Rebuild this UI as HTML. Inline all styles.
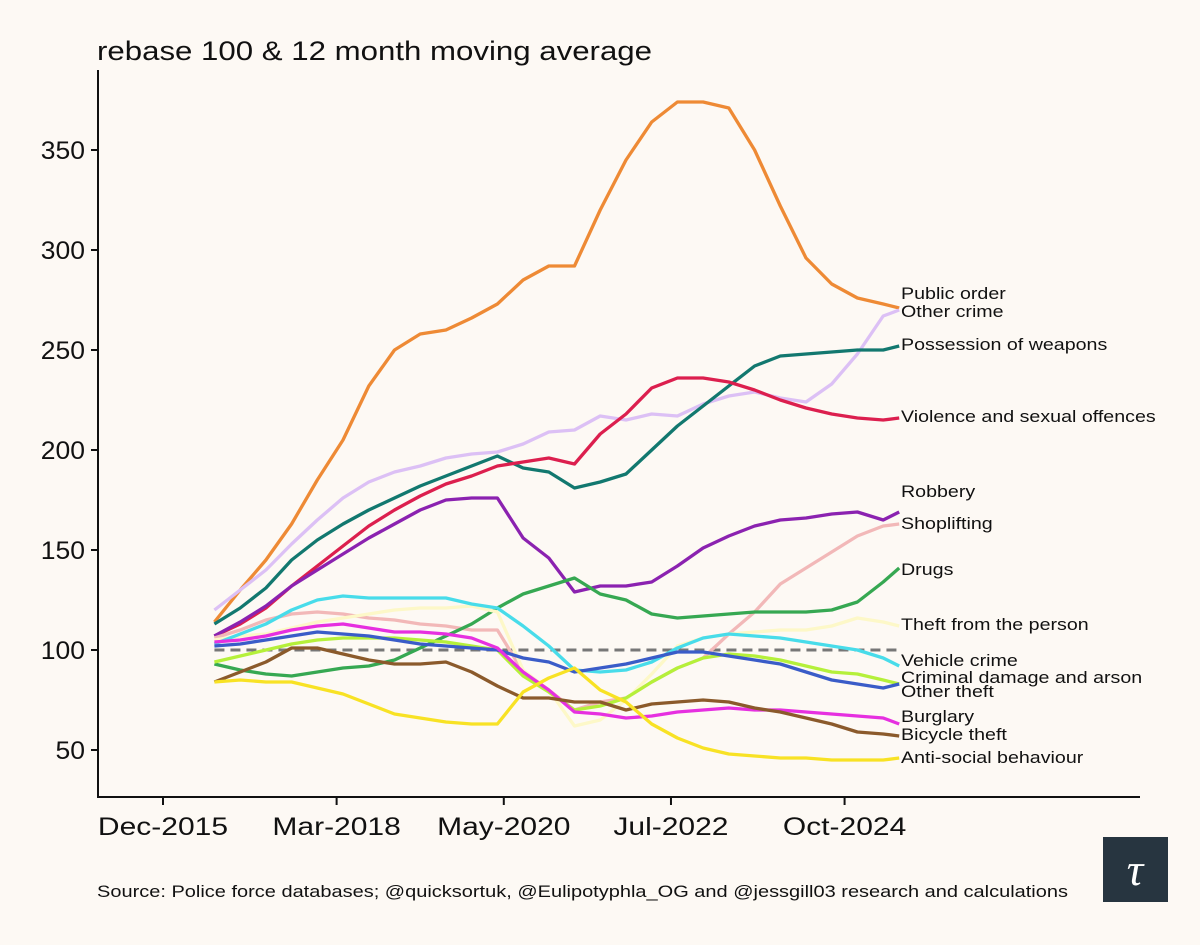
<!DOCTYPE html>
<html><head><meta charset="utf-8"><style>
body{margin:0;background:#fdf9f4;}
svg{display:block;font-family:"Liberation Sans",sans-serif;}
</style></head><body>
<svg id="chart" width="1200" height="945">
<rect width="1200" height="945" fill="#fdf9f4"/>
<text x="97" y="60" font-size="27" textLength="555" lengthAdjust="spacingAndGlyphs" fill="#111">rebase 100 &amp; 12 month moving average</text>
<text x="97" y="897" font-size="17" textLength="971" lengthAdjust="spacingAndGlyphs" fill="#111">Source: Police force databases; @quicksortuk, @Eulipotyphla_OG and @jessgill03 research and calculations</text>
<g><rect x="1103" y="837" width="65" height="65" fill="#273540"/><text x="1135" y="885" font-size="46" font-family="Liberation Serif,serif" font-style="italic" fill="#fff" text-anchor="middle">τ</text></g>
<g id="axes"></g><g id="series"></g>
</svg>
<script>
const months=[8,12,16,20,24,28,32,36,40,44,48,52,56,60,64,68,72,76,80,84,88,92,96,100,104,108,112,114.5];
const xTickLabels=["Dec-2015","Mar-2018","May-2020","Jul-2022","Oct-2024"];
const xTickMonths=[0,27,53,79,106];
const yTicks=[50,100,150,200,250,300,350];
const seriesNames=["Public order","Other crime","Possession of weapons","Violence and sexual offences","Robbery","Shoplifting","Drugs","Theft from the person","Vehicle crime","Criminal damage and arson","Other theft","Burglary","Bicycle theft","Anti-social behaviour"];
const publicOrder=[114,130,145,163,185,205,232,250,258,260,266,273,285,292,292,320,345,364,374,374,371,350,322,296,283,276,273,271];
const otherCrime=[120,130,140,153,165,176,184,189,192,196,198,199,203,209,210,217,215,218,217,223,227,229,226,224,233,248,267,270];
const weapons=[113,121,131,145,155,163,170,176,182,187,192,197,191,189,181,184,188,200,212,222,232,242,247,248,249,250,250,252];
const violence=[107,113,121,132,142,152,162,170,177,183,187,192,194,196,193,208,218,231,236,236,234,230,225,221,218,216,215,216];
const robbery=[107,114,122,132,140,148,156,163,170,175,176,176,156,146,129,132,132,134,142,151,157,162,165,166,168,169,165,169];
const shoplifting=[106,110,115,118,119,118,116,115,113,112,110,110,89,80,70,74,76,84,91,96,108,119,133,141,149,157,162,163];
const drugs=[93,90,88,87,89,91,92,95,101,107,113,121,128,132,136,128,125,118,116,117,118,119,119,119,120,124,134,141];
const theftPerson=[105,107,108,111,114,116,118,120,121,121,122,119,90,80,62,65,75,88,102,106,108,109,110,110,112,116,114,112];
const vehicle=[103,108,113,120,125,127,126,126,126,126,123,121,112,102,90,89,90,94,101,106,108,107,106,104,102,100,96,92];
const criminalDamage=[94,97,100,103,105,106,106,106,105,104,102,100,87,79,70,72,76,84,91,96,98,97,95,92,89,88,85,83];
const otherTheft=[102,103,105,107,109,108,107,105,103,102,101,100,96,94,89,91,93,96,99,99,97,95,93,89,85,83,81,83];
const burglary=[104,105,107,110,112,113,111,109,109,108,106,101,89,80,69,68,66,67,69,70,71,70,70,69,68,67,66,63];
const bicycle=[84,89,94,101,101,98,95,93,93,94,89,82,76,76,74,74,70,73,74,75,74,71,69,66,63,59,58,57];
const asb=[84,85,84,84,81,78,73,68,66,64,63,63,79,86,91,80,74,63,56,51,48,47,46,46,45,45,45,46];
const allValues=[publicOrder,otherCrime,weapons,violence,robbery,shoplifting,drugs,theftPerson,vehicle,criminalDamage,otherTheft,burglary,bicycle,asb];
const colors=["#ee8a35","#dcc0f5","#12786f","#dc1f4e","#8b22b0","#f2b8b8","#36a852","#fdf8c8","#48dcea","#b5f03a","#3a5cc8","#e630e0","#8b5a2b","#f8e224"];
const labelY=[293,311,344,416,491,523,569,624,660,677,691,716,734,757];
const X=m=>163+6.43*m, Y=v=>650-(v-100)*2;
const NS="http://www.w3.org/2000/svg";
const ax=document.getElementById('axes'), sg=document.getElementById('series');
function mk(t,a,p){const e=document.createElementNS(NS,t);for(const k in a)e.setAttribute(k,a[k]);p.appendChild(e);return e;}
function widen(t,r){const w=t.getComputedTextLength();t.setAttribute('textLength',(w*r).toFixed(1));t.setAttribute('lengthAdjust','spacingAndGlyphs');}
let e=mk('line',{x1:98,y1:70,x2:98,y2:797,stroke:'#111','stroke-width':2},ax);


e=mk('line',{x1:97,y1:797,x2:1140,y2:797,stroke:'#111','stroke-width':2},ax);


yTicks.forEach(v=>{mk('line',{x1:91,x2:98,y1:Y(v),y2:Y(v),stroke:'#111','stroke-width':2},ax);
 const t=mk('text',{x:85,y:Y(v)+9,'font-size':25,'text-anchor':'end',fill:'#111'},ax);t.textContent=v;
 
 
 widen(t,1.06);});
xTickMonths.forEach((m,i)=>{mk('line',{x1:X(m),x2:X(m),y1:797,y2:805,stroke:'#111','stroke-width':2},ax);
 const t=mk('text',{x:X(m),y:835,'font-size':25,'text-anchor':'middle',fill:'#111'},ax);t.textContent=xTickLabels[i];
 
 
 widen(t,1.2);});
e=mk('line',{x1:X(months[0]),x2:X(months[months.length-1]),y1:Y(100),y2:Y(100),stroke:'#777','stroke-width':3,'stroke-dasharray':'10 6'},ax);


allValues.forEach((vals,i)=>{
 const d=vals.map((v,j)=>(j?'L':'M')+X(months[j]).toFixed(1)+' '+Y(v).toFixed(1)).join(' ');
 const p=mk('path',{d:d,fill:'none',stroke:colors[i],'stroke-width':3.3,'stroke-linejoin':'round'},sg);
 
 
 const t=mk('text',{x:901,y:labelY[i]+6,'font-size':17,fill:'#111'},sg);t.textContent=seriesNames[i];
 
 
 widen(t,1.155);
});
</script>
</body></html>
